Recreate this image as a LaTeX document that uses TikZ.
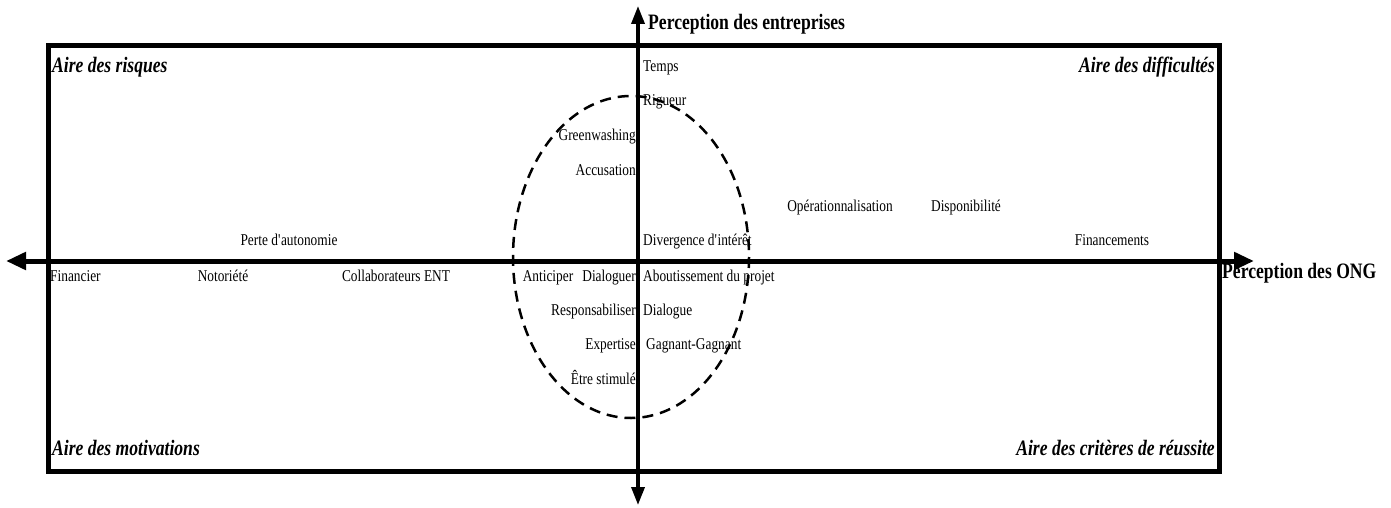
\documentclass[tikz,border=0pt]{standalone}
\usepackage{fontspec}
\setmainfont{Liberation Serif}[FakeStretch=0.81]
\newfontfamily\bigf{Liberation Serif}[FakeStretch=0.8]
\usetikzlibrary{arrows.meta}
\begin{document}
\begin{tikzpicture}[x=1pt,y=-1pt,
  lbl/.style={inner sep=0pt,font=\fontsize{16.5}{19}\selectfont},
  axlbl/.style={inner sep=0pt,font=\bigf\fontsize{22}{26}\selectfont\bfseries},
  area/.style={inner sep=0pt,font=\bigf\fontsize{22}{26}\selectfont\bfseries\itshape},
  axis/.style={line width=5pt,-{Triangle[length=20pt,width=17pt]}},
  vaxis/.style={line width=3.5pt,{Triangle[length=18pt,width=13pt]}-{Triangle[length=18pt,width=13pt]}}]
\useasboundingbox (0,0) rectangle (1391,508);
% frame
\coordinate (FA) at (48,46);
\coordinate (FB) at (1219,471);
\draw[line width=5pt] (FA) rectangle (FB);
% axes
\coordinate (O) at (638,261);
\coordinate (L) at (6,261);
\coordinate (R) at (1254,261);
\coordinate (T) at (638,6);
\coordinate (B) at (638,505);
\draw[axis] (O) -- (L);
\draw[axis] (O) -- (R);
\draw[vaxis] (B) -- (T);
% ellipse
\draw[line width=2.5pt,dash pattern=on 11pt off 7pt] (631,257) ellipse [x radius=118, y radius=161];
% axis labels
\node[axlbl,anchor=mid west] (pe) at (648,27) {Perception des entreprises};
\node[axlbl,anchor=mid west] (po) at (1222,276) {Perception des ONG};
% area labels
\node[area,anchor=mid west] (a1) at (52,70) {Aire des risques};
\node[area,anchor=mid east] (a2) at (1215,70) {Aire des difficultés};
\node[area,anchor=mid west] (a3) at (52,453) {Aire des motivations};
\node[area,anchor=mid east] (a4) at (1215,453) {Aire des critères de réussite};
% upper labels
\node[lbl,anchor=mid west] (t1) at (643,69) {Temps};
\node[lbl,anchor=mid west] (t2) at (643,103) {Rigueur};
\node[lbl,anchor=mid east] (t3) at (636,138) {Greenwashing};
\node[lbl,anchor=mid east] (t4) at (636,173) {Accusation};
\node[lbl,anchor=mid] (t5) at (840,209) {Opérationnalisation};
\node[lbl,anchor=mid] (t6) at (966,209) {Disponibilité};
\node[lbl,anchor=mid] (t7) at (289,243) {Perte d\textquotesingle autonomie};
\node[lbl,anchor=mid west] (t8) at (643,243) {Divergence d\textquotesingle intérêt};
\node[lbl,anchor=mid] (t9) at (1112,243) {Financements};
% lower labels
\node[lbl,anchor=mid west] (b1) at (50,279) {Financier};
\node[lbl,anchor=mid] (b2) at (223,279) {Notoriété};
\node[lbl,anchor=mid] (b3) at (396,279) {Collaborateurs ENT};
\node[lbl,anchor=mid] (b4) at (548,279) {Anticiper};
\node[lbl,anchor=mid east] (b5) at (636,279) {Dialoguer};
\node[lbl,anchor=mid west] (b6) at (643,279) {Aboutissement du projet};
\node[lbl,anchor=mid east] (b7) at (636,313) {Responsabiliser};
\node[lbl,anchor=mid west] (b8) at (643,313) {Dialogue};
\node[lbl,anchor=mid east] (b9) at (636,347) {Expertise};
\node[lbl,anchor=mid west] (b10) at (646,347) {Gagnant-Gagnant};
\node[lbl,anchor=mid east] (b11) at (636,382) {Être stimulé};
\end{tikzpicture}
\end{document}
